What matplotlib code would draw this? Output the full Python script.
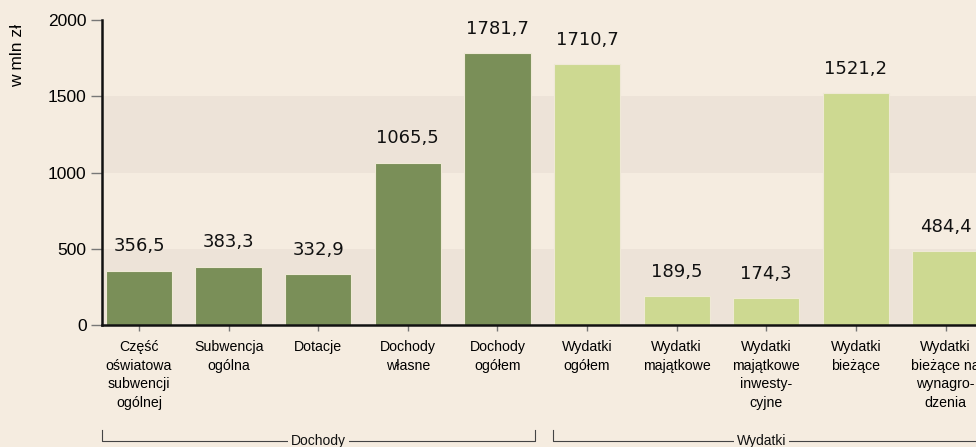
import matplotlib
matplotlib.use('Agg')
import matplotlib.pyplot as plt

# Budget figures (mln zł)
categories = ['Część\noświatowa\nsubwencji\nogólnej', 'Subwencja\nogólna', 'Dotacje',
              'Dochody\nwłasne', 'Dochody\nogółem', 'Wydatki\nogółem', 'Wydatki\nmajątkowe',
              'Wydatki\nmajątkowe\ninwesty-\ncyjne', 'Wydatki\nbieżące',
              'Wydatki\nbieżące na\nwynagro-\ndzenia']
values = [356.5, 383.3, 332.9, 1065.5, 1781.7, 1710.7, 189.5, 174.3, 1521.2, 484.4]
groups = ['Dochody'] * 5 + ['Wydatki'] * 5
value_labels = ['356,5', '383,3', '332,9', '1065,5', '1781,7',
                '1710,7', '189,5', '174,3', '1521,2', '484,4']
yticks = [0, 500, 1000, 1500, 2000]

BG = '#f5ece0'
BAND = '#ede3d8'
colors = {'Dochody': '#7a8f58', 'Wydatki': '#cdd991'}

fig = plt.figure(figsize=(9.76, 4.47), dpi=100, facecolor=BG)
ax = fig.add_axes([0.1045, 0.273, 0.8955, 0.682], facecolor=BG)

# alternating horizontal bands
for lo in (0, 1000):
    ax.axhspan(lo, lo + 500, color=BAND, zorder=0, lw=0)

x = list(range(len(values)))
ax.bar(x, values, width=0.74, color=[colors[g] for g in groups],
       edgecolor='#efe9d6', linewidth=0.8, zorder=2)

for xi, v, lab in zip(x, values, value_labels):
    ax.annotate(lab, (xi, v), xytext=(0, 11), textcoords='offset points',
                ha='center', va='bottom', fontsize=13, family='DejaVu Sans',
                color='#111111')

ax.set_xlim(-0.413, 9.34)
ax.set_ylim(0, 2000)
ax.set_yticks(yticks)
ax.set_yticklabels([str(t) for t in yticks], fontsize=12.5, family='Liberation Sans')
ax.set_xticks(x)
ax.set_xticklabels(categories, fontsize=10.2, family='Liberation Sans', linespacing=1.42,
                   va='top')
ax.tick_params(axis='y', length=8, width=1, color='#777777', pad=3)
ax.tick_params(axis='x', length=4, width=1, color='#777777', pad=7)

for s in ('top', 'right'):
    ax.spines[s].set_visible(False)
for s in ('left', 'bottom'):
    ax.spines[s].set_linewidth(1.8)
    ax.spines[s].set_color('#111111')
    ax.spines[s].set_zorder(3)

ax.set_ylabel('w mln zł', fontsize=12.5, family='Liberation Sans')
ax.yaxis.set_label_coords(-0.088, 0.885)

# group brackets under the category labels
trans = ax.get_xaxis_transform()
y_low = -0.382
y_high = -0.346
bracket = dict(color='#444444', lw=0.8, clip_on=False, transform=trans)
ax.plot([-0.413, -0.413, 4.42, 4.42], [y_high, y_low, y_low, y_high], **bracket)
ax.plot([4.62, 4.62, 9.6], [y_high, y_low, y_low], **bracket)
for xc, name in ((2.0, 'Dochody'), (6.95, 'Wydatki')):
    ax.text(xc, y_low, name, transform=trans, ha='center', va='center',
            fontsize=10, family='Liberation Sans', color='#111111',
            bbox=dict(facecolor=BG, edgecolor='none', pad=2))

fig.savefig('out.png', dpi=100, facecolor=BG)
